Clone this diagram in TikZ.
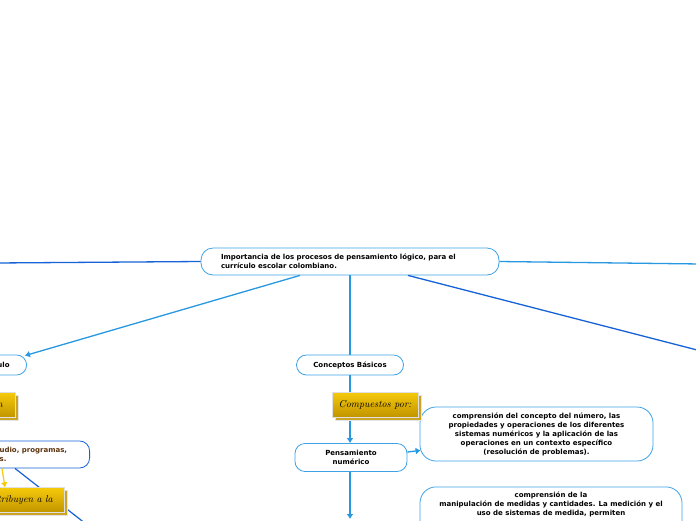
\documentclass[tikz,border=0pt]{standalone}
\usepackage{fontspec}
\setsansfont{DejaVu Sans}
\usepackage{tikz}
\usetikzlibrary{calc,arrows.meta,shadows}

\definecolor{linkblue}{RGB}{40,152,224}
\definecolor{deepblue}{RGB}{22,98,214}
\definecolor{rimblue}{RGB}{62,162,230}
\definecolor{goldtop}{RGB}{245,202,10}
\definecolor{goldbot}{RGB}{194,148,0}
\definecolor{rust}{RGB}{92,52,14}

\begin{document}
\begin{tikzpicture}[x=1pt,y=-1pt,
    topic/.style={draw=rimblue,line width=0.8pt,rounded corners=10pt,fill=white,
                  font=\sffamily\bfseries\fontsize{7}{9}\selectfont,
                  align=center,inner sep=0pt},
    tag/.style={draw=black!12,line width=0.6pt,top color=goldtop,bottom color=goldbot,
                copy shadow={shadow xshift=3pt,shadow yshift=-3pt,fill=goldbot!85!white,draw=black!10},
                font=\rmfamily\itshape\fontsize{10}{12}\selectfont,inner sep=0pt},
    conn/.style={linkblue,line width=1.3pt},
    tip/.style={-{Latex[length=5pt,width=7pt]}},
]
\useasboundingbox (0,0) rectangle (696,520);
\clip (0,0) rectangle (696,520);
\fill[white] (0,0) rectangle (696,520);

% free ends of the branches that leave the page
\coordinate (edgeW)  at (-5,263);
\coordinate (edgeE)  at (701,264);
\coordinate (edgeSE) at (701,351);
\coordinate (edgeS)  at (350,519);
\coordinate (edgeSW) at (86,524);

% central topic
\node[topic,rounded corners=12pt,minimum width=298pt,minimum height=27pt,
      text width=258pt,align=left,inner xsep=20pt] (main) at (350,261.5)
  {Importancia de los procesos de pensamiento lógico, para el\\currículo escolar colombiano.};

% left branch (cut by the page edge)
\node[topic,anchor=east,text width=80pt,align=right,inner xsep=17pt,
      minimum height=20pt] (curric) at (27,365) {ulo};
\node[tag,anchor=east,text width=40pt,align=right,inner xsep=13pt,
      minimum height=25pt] (tagA) at (16,405) {n};
\node[topic,draw=deepblue,text=rust,anchor=east,text width=70pt,align=left,
      inner xsep=20pt,minimum height=27pt] (plan) at (90,454.5) {udio, programas,\\s.};

\draw[deepblue,line width=1.2pt] ($(plan.south east)+(-75,0)$) -- (edgeSW);
\draw[goldtop,line width=1.2pt,tip] ($(plan.south east)+(-88,0)$) -- ($(plan.south east)+(-85,19)$);

\node[tag,anchor=east,text width=60pt,align=right,inner xsep=12pt,
      minimum height=25pt] (tagB) at (65,500) {tribuyen a la};

% middle branch
\node[topic,minimum width=107pt,minimum height=20pt] (conceptos) at (350,365) {Conceptos Básicos};
\node[topic,minimum width=112pt,minimum height=28pt] (numerico) at (351,457.5) {Pensamiento\\numérico};

\node[topic,rounded corners=16pt,minimum width=233pt,minimum height=54pt] (numdesc) at (536.5,434)
  {comprensión del concepto del número, las\\propiedades y operaciones de los diferentes\\
   sistemas numéricos y la aplicación de las\\operaciones en un contexto específico\\
   (resolución de problemas).};
\node[topic,rounded corners=16pt,minimum width=262pt,anchor=north,inner ysep=5pt] (medida) at (551,486.5)
  {comprensión de la\\manipulación de medidas y cantidades. La medición y el\\
   uso de sistemas de medida, permiten\rule[-30pt]{0pt}{0pt}};

% connectors
\draw[conn,deepblue] (main.west) -- (edgeW);
\draw[conn] (main.east) -- (edgeE);
\draw[conn,tip] ($(main.south)+(-50,0)$) -- ($(curric.north east)+(-2,1)$);
\draw[conn,deepblue] ($(main.south)+(58,0)$) -- (edgeSE);
\draw[conn,line width=2pt] (main.south) -- (main.south |- conceptos.north);
\draw[conn,line width=2pt,tip] (conceptos.south) -- (conceptos.south |- numerico.north);
\draw[conn,line width=2pt,tip] (conceptos.south |- numerico.south) -- (edgeS);
\draw[conn,tip] ($(numerico.east)+(0,-5.5)$) -- ($(numdesc.south west)+(1,-11)$);

\node[tag,minimum width=86pt,minimum height=25pt] (tagC) at (375,404.5) {Compuestos por:};

\end{tikzpicture}
\end{document}
